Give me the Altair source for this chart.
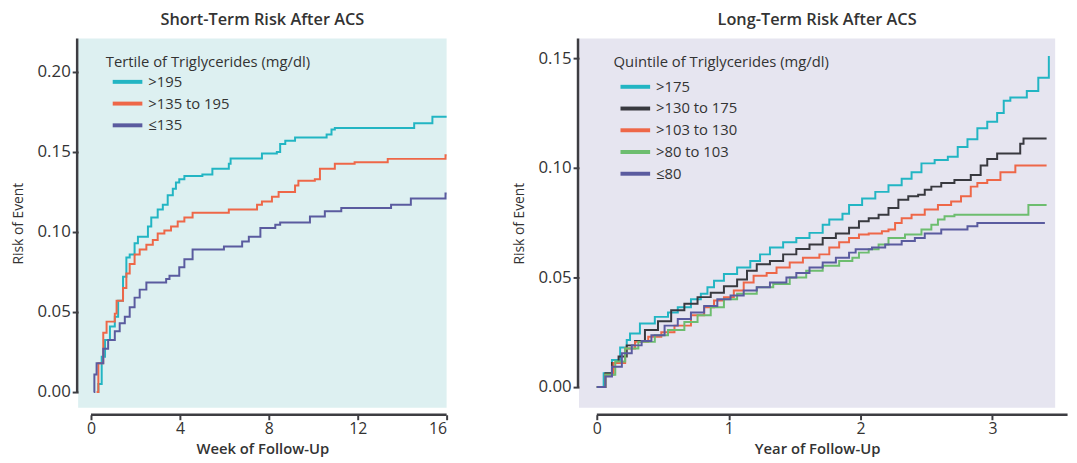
import altair as alt
import pandas as pd

# ---------------- Short-term (weeks) ----------------
st_labels = [">195", ">135 to 195", "≤135"]
st_colors = ["#22b5c3", "#ee6748", "#5a5b9f"]
st_ticks_x = [0, 4, 8, 12, 16]
st_ticks_y = [0.0, 0.05, 0.10, 0.15, 0.20]

st_hi_x = [0.3, 0.33, 0.48, 0.63, 0.85, 1.07, 1.22, 1.44, 1.59, 1.74, 1.96, 2.11, 2.56, 2.71, 3.0,
           3.23, 3.45, 3.68, 3.82, 3.97, 4.2, 5.01, 5.46, 6.2, 6.28, 7.69, 8.36, 8.51, 8.74, 9.18,
           10.6, 10.82, 10.97, 14.54, 15.36, 16.0]
st_hi_y = [0.0, 0.005, 0.022, 0.0325, 0.041, 0.047, 0.057, 0.072, 0.084, 0.086, 0.093, 0.097, 0.1035,
           0.109, 0.114, 0.117, 0.123, 0.127, 0.131, 0.133, 0.135, 0.136, 0.1395, 0.1426, 0.146, 0.149,
           0.150, 0.155, 0.157, 0.159, 0.161, 0.164, 0.165, 0.168, 0.172, 0.172]

st_mid_x = [0.25, 0.33, 0.55, 0.70, 1.07, 1.15, 1.44, 1.59, 1.74, 1.96, 2.19, 2.49, 2.78, 3.0, 3.3,
            3.6, 3.9, 4.2, 4.57, 6.2, 7.47, 7.69, 8.14, 8.44, 9.18, 9.33, 10.07, 10.3, 10.97, 11.86,
            13.35, 15.95, 16.0]
st_mid_y = [0.0, 0.018, 0.037, 0.044, 0.049, 0.057, 0.065, 0.074, 0.080, 0.086, 0.089, 0.092, 0.095,
            0.099, 0.101, 0.1035, 0.1066, 0.109, 0.112, 0.114, 0.117, 0.119, 0.122, 0.125, 0.129, 0.132,
            0.133, 0.1395, 0.1426, 0.1436, 0.1457, 0.148, 0.148]

st_lo_x = [0.12, 0.15, 0.25, 0.55, 0.77, 1.07, 1.29, 1.52, 1.74, 1.96, 2.19, 2.49, 3.38, 3.53, 3.97,
           4.2, 4.57, 5.98, 6.8, 7.1, 7.62, 8.29, 8.51, 9.85, 10.52, 11.26, 13.5, 14.39, 15.95, 16.0]
st_lo_y = [0.0, 0.011, 0.018, 0.027, 0.0325, 0.038, 0.043, 0.047, 0.053, 0.059, 0.064, 0.0685, 0.0706,
           0.0726, 0.078, 0.083, 0.089, 0.091, 0.094, 0.097, 0.1025, 0.1045, 0.106, 0.1097, 0.113, 0.115,
           0.117, 0.121, 0.124, 0.124]

# ---------------- Long-term (years) ----------------
lt_labels = [">175", ">130 to 175", ">103 to 130", ">80 to 103", "≤80"]
lt_colors = ["#22b5c3", "#38393f", "#ee6748", "#6dbd6f", "#5a5b9f"]
lt_ticks_x = [0, 1, 2, 3]
lt_ticks_y = [0.0, 0.05, 0.10, 0.15]

lt_q5_x = [0.0, 0.052, 0.115, 0.177, 0.227, 0.252, 0.327, 0.44, 0.54, 0.614, 0.714, 0.789, 0.839, 0.889,
           0.964, 1.064, 1.164, 1.238, 1.313, 1.413, 1.513, 1.613, 1.713, 1.763, 1.863, 1.913, 2.012,
           2.112, 2.212, 2.312, 2.387, 2.462, 2.562, 2.662, 2.737, 2.811, 2.886, 2.961, 3.036, 3.086,
           3.136, 3.261, 3.348, 3.423, 3.428]
lt_q5_y = [0.0, 0.0063, 0.0123, 0.018, 0.0214, 0.0244, 0.029, 0.032, 0.034, 0.0364, 0.040, 0.0425,
           0.0455, 0.0485, 0.0515, 0.0545, 0.0575, 0.0605, 0.0636, 0.066, 0.068, 0.0703, 0.074, 0.0764,
           0.079, 0.083, 0.086, 0.089, 0.092, 0.095, 0.098, 0.102, 0.1035, 0.105, 0.1095, 0.113, 0.118,
           0.121, 0.125, 0.1306, 0.132, 0.135, 0.141, 0.141, 0.151]

lt_q4_x = [0.0, 0.065, 0.115, 0.165, 0.227, 0.29, 0.365, 0.464, 0.564, 0.664, 0.764, 0.864, 0.964,
           1.064, 1.139, 1.213, 1.313, 1.413, 1.513, 1.613, 1.713, 1.813, 1.913, 1.988, 2.062, 2.137,
           2.212, 2.287, 2.362, 2.437, 2.487, 2.537, 2.612, 2.712, 2.836, 2.911, 2.961, 3.036, 3.211,
           3.236, 3.411]
lt_q4_y = [0.0, 0.0063, 0.011, 0.0139, 0.019, 0.021, 0.026, 0.030, 0.035, 0.038, 0.041, 0.043, 0.046,
           0.049, 0.053, 0.056, 0.0575, 0.0605, 0.063, 0.065, 0.068, 0.070, 0.0726, 0.0756, 0.077,
           0.0786, 0.0816, 0.0854, 0.087, 0.0877, 0.090, 0.0914, 0.093, 0.0944, 0.0967, 0.101, 0.104,
           0.1065, 0.111, 0.1133, 0.1133]

lt_q3_x = [0.0, 0.065, 0.127, 0.215, 0.29, 0.39, 0.489, 0.589, 0.714, 0.814, 0.889, 0.964, 1.039,
           1.114, 1.189, 1.288, 1.363, 1.463, 1.563, 1.688, 1.763, 1.838, 1.913, 1.988, 2.062, 2.162,
           2.212, 2.262, 2.312, 2.387, 2.487, 2.587, 2.687, 2.762, 2.836, 2.886, 2.961, 3.061, 3.174,
           3.411]
lt_q3_y = [0.0, 0.0056, 0.011, 0.0176, 0.0206, 0.0229, 0.025, 0.028, 0.0327, 0.0364, 0.0395, 0.041,
           0.044, 0.0477, 0.0508, 0.052, 0.0545, 0.0568, 0.059, 0.0605, 0.0636, 0.066, 0.068, 0.0696,
           0.070, 0.071, 0.0718, 0.0748, 0.077, 0.0786, 0.081, 0.083, 0.0846, 0.087, 0.0914, 0.093,
           0.0944, 0.098, 0.101, 0.101]

lt_q2_x = [0.0, 0.065, 0.14, 0.215, 0.315, 0.44, 0.54, 0.664, 0.764, 0.864, 0.964, 1.064, 1.213, 1.338,
           1.463, 1.588, 1.713, 1.838, 1.938, 1.988, 2.062, 2.137, 2.212, 2.337, 2.462, 2.537, 2.587,
           2.637, 2.712, 3.273, 3.411]
lt_q2_y = [0.0, 0.0056, 0.0116, 0.0176, 0.0206, 0.0236, 0.026, 0.0297, 0.0327, 0.0364, 0.040, 0.0425,
           0.0455, 0.047, 0.050, 0.053, 0.0553, 0.0575, 0.059, 0.0613, 0.0628, 0.065, 0.068, 0.0696,
           0.0718, 0.074, 0.0764, 0.0779, 0.0786, 0.083, 0.083]

lt_q1_x = [0.0, 0.065, 0.115, 0.19, 0.265, 0.34, 0.414, 0.514, 0.614, 0.714, 0.814, 0.914, 1.014,
           1.114, 1.213, 1.313, 1.438, 1.513, 1.613, 1.713, 1.813, 1.913, 1.963, 2.087, 2.187, 2.312,
           2.412, 2.487, 2.612, 2.811, 2.886, 3.398]
lt_q1_y = [0.0, 0.0048, 0.0093, 0.0154, 0.019, 0.021, 0.0236, 0.028, 0.031, 0.034, 0.037, 0.040,
           0.0417, 0.044, 0.0455, 0.0477, 0.050, 0.052, 0.0545, 0.0568, 0.059, 0.0613, 0.0628, 0.0636,
           0.065, 0.0666, 0.068, 0.070, 0.0718, 0.0733, 0.0748, 0.0748]


def long_df(series, labels):
    rows = []
    for (xs, ys), lab in zip(series, labels):
        for i, (x, y) in enumerate(zip(xs, ys)):
            rows.append({"x": x, "y": y, "grp": lab, "i": i})
    return pd.DataFrame(rows)


st_df = long_df([(st_hi_x, st_hi_y), (st_mid_x, st_mid_y), (st_lo_x, st_lo_y)], st_labels)
lt_df = long_df([(lt_q5_x, lt_q5_y), (lt_q4_x, lt_q4_y), (lt_q3_x, lt_q3_y),
                 (lt_q2_x, lt_q2_y), (lt_q1_x, lt_q1_y)], lt_labels)

AX = "#3d3d42"
TXT = "#333333"
FONT = "Open Sans"
H = 374


def panel(df, labels, colors, xdom, ydom, xticks, yticks, xtitle, title, legend_title,
          width, bg, xaxis_end, legx, legy, legtp):
    base = alt.Chart(df)
    lines = base.mark_line(interpolate="step-after", strokeWidth=2).encode(
        x=alt.X("x:Q", scale=alt.Scale(domain=xdom, nice=False, zero=False),
                axis=alt.Axis(values=xticks, title=xtitle, domain=False, offset=7, format="d",
                              grid=False, tickSize=5, tickWidth=2, tickColor=AX,
                              labelFont=FONT, labelFontSize=16, labelColor=TXT,
                              labelPadding=1, titleFont=FONT, titleFontSize=15,
                              titleFontWeight=600, titleColor=TXT, titlePadding=5)),
        y=alt.Y("y:Q", scale=alt.Scale(domain=ydom, nice=False, zero=False),
                axis=alt.Axis(values=yticks, title="Risk of Event", domain=False, format=".2f",
                              grid=False, tickSize=6, tickWidth=2, tickColor=AX,
                              labelFont=FONT, labelFontSize=17, labelColor=TXT,
                              labelPadding=2, titleFont=FONT, titleFontSize=14,
                              titleFontWeight=400, titleColor=TXT, titlePadding=12)),
        color=alt.Color("grp:N", scale=alt.Scale(domain=labels, range=colors),
                        legend=alt.Legend(title=legend_title, orient="none", legendX=legx,
                                          legendY=legy, symbolType="M-0.5,0H2.5",
                                          symbolStrokeWidth=4, symbolSize=400,
                                          labelFont=FONT, labelFontSize=15,
                                          labelColor=TXT, titleFont=FONT, titleFontSize=15,
                                          titleFontWeight="normal", titleColor=TXT,
                                          rowPadding=2, titlePadding=legtp, labelOffset=19,
                                          titleLimit=400)),
        order="i:Q",
    )
    one = alt.Chart(pd.DataFrame({"a": [0]}))
    xline = one.mark_rule(color=AX, strokeWidth=2.5).encode(
        x=alt.datum(0), x2=alt.datum(xaxis_end), y=alt.value(H + 7))
    yline = one.mark_rule(color=AX, strokeWidth=2.5).encode(
        x=alt.value(-1), y=alt.datum(0), y2=alt.value(0))
    return alt.layer(lines, xline, yline).properties(
        width=width, height=H,
        title=alt.TitleParams(title, font=FONT, fontSize=16.5, fontWeight=600,
                              color=TXT, frame="group", offset=9),
        view=alt.ViewBackground(fill=bg, strokeWidth=0),
    )


left = panel(st_df, st_labels, st_colors, [-0.58, 16.0], [-0.0099, 0.221], st_ticks_x, st_ticks_y,
             "Week of Follow-Up", "Short-Term Risk After ACS", "Tertile of Triglycerides (mg/dl)",
             373, "#ddf0f1", 16, 28, 17, 0)
right = panel(lt_df, lt_labels, lt_colors, [-0.135, 3.476], [-0.0095, 0.159], lt_ticks_x, lt_ticks_y,
              "Year of Follow-Up", "Long-Term Risk After ACS", "Quintile of Triglycerides (mg/dl)",
              482, "#e6e5f0", 3.57, 35, 17, 5)

chart = alt.hconcat(left, right, spacing=62).resolve_scale(
    color="independent", x="independent", y="independent"
).resolve_legend(color="independent").properties(
    padding={"left": 3, "top": 1, "right": 0, "bottom": 0}, background="white"
).configure_view(stroke=None)

chart.save("out.html", embed_options={"renderer": "svg", "actions": False})
